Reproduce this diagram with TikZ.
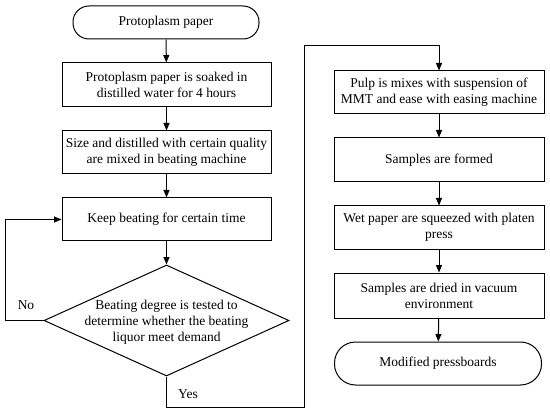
\documentclass[tikz,border=0pt]{standalone}
\usepackage{fontspec}
\setmainfont{Liberation Serif}
\usetikzlibrary{arrows.meta,shapes.geometric}
\begin{document}
\begin{tikzpicture}[x=1pt,y=-1pt,
  every node/.style={font=\fontsize{13.5}{16}\selectfont},
  procbox/.style={draw,line width=1pt,rectangle,align=center,inner sep=0pt,minimum width=209pt,minimum height=43pt},
  termbox/.style={draw,line width=1pt,rectangle,rounded corners=16pt,align=center,inner sep=0pt,minimum height=33pt},
  decbox/.style={draw,line width=1pt,diamond,inner sep=0pt,minimum width=245pt,minimum height=111pt},
  flow/.style={line width=1pt,-{Triangle[length=7.5pt,width=6pt]}},
  plainline/.style={line width=1pt}]
\useasboundingbox (0,0) rectangle (550,412);
% left column
\node[termbox,minimum width=186pt] (t1) at (166,22.5) {Protoplasm paper};
\node[procbox,minimum height=44pt] (b2) at (166.5,85) {Protoplasm paper is soaked in\\distilled water for 4 hours};
\node[procbox] (b3) at (166.5,152.5) {Size and distilled with certain quality\\are mixed in beating machine};
\node[procbox] (b4) at (166.5,219.5) {Keep beating for certain time};
\node[decbox] (d) at (166.5,320.5) {};
\node[align=center,inner sep=0pt] (dt) at (166.5,322) {Beating degree is tested to\\determine whether the beating\\liquor meet demand};
% right column
\node[procbox,minimum width=210pt] (b5) at (439,92.5) {Pulp is mixes with suspension of\\MMT and ease with easing machine};
\node[procbox,minimum width=210pt,minimum height=44pt] (b6) at (439,160) {Samples are formed};
\node[procbox,minimum width=210pt] (b7) at (439,227.5) {Wet paper are squeezed with platen\\press};
\node[procbox,minimum width=210pt,minimum height=45pt] (b8) at (439,295.5) {Samples are dried in vacuum\\environment};
\node[termbox,minimum width=207pt,minimum height=43pt,rounded corners=21pt] (t2) at (438,363.5) {Modified pressboards};
% labels
\node (no) at (26,305) {No};
\node (yes) at (188,394) {Yes};
% coordinates
\coordinate (nl) at (5,320.5);
\coordinate (nu) at (5,219.5);
\coordinate (ya) at (166.5,407.5);
\coordinate (yb) at (304,407.5);
\coordinate (yc) at (304,46);
\coordinate (yd) at (439,46);
% connectors
\draw[flow] (t1) -- (b2);
\draw[flow] (b2) -- (b3);
\draw[flow] (b3) -- (b4);
\draw[flow] (b4) -- (d.north);
\draw[flow] (d.west) -- (nl) -- (nu) -- (b4.west);
\draw[flow] (d.south) -- (ya) -- (yb) -- (yc) -- (yd) -- (b5.north);
\draw[flow] (b5) -- (b6);
\draw[flow] (b6) -- (b7);
\draw[flow] (b7) -- (b8);
\draw[flow] (b8) -- (t2);
\end{tikzpicture}
\end{document}
